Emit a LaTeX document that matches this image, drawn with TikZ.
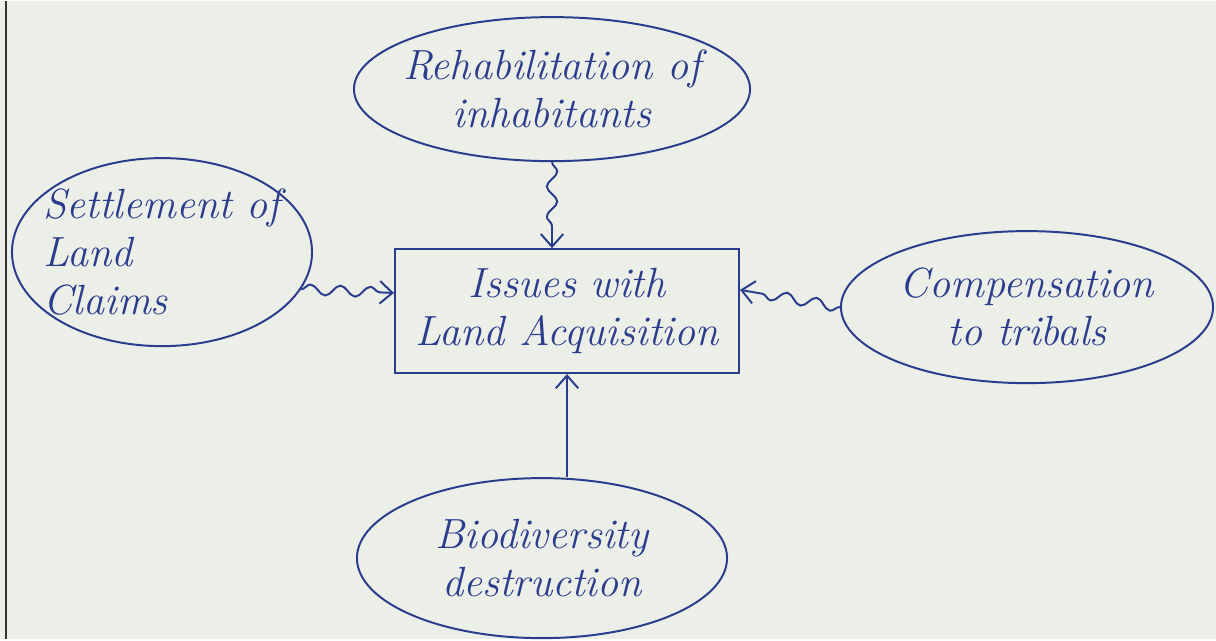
\documentclass[tikz,border=0pt]{standalone}
\usepackage{xcolor}
\usepackage{tikz}
\usetikzlibrary{arrows.meta, shapes.geometric, decorations.pathmorphing, positioning}

\definecolor{ink}{RGB}{42,60,140}
\definecolor{paper}{RGB}{236,238,232}

\begin{document}
\begin{tikzpicture}[
            x=0.025cm,
            y=-0.025cm,
            every node/.style={
                    text=ink,
                    font=\fontsize{30}{34}\selectfont\itshape,
                    align=center,
                    inner sep=0pt
                },
            idea/.style={
                    draw=ink,
                    ellipse,
                    line width=1.4pt
                },
            issue box/.style={
                    draw=ink,
                    rectangle,
                    line width=1.4pt,
                    minimum width=8.6cm,
                    minimum height=3.1cm
                },
            wavy link/.style={
                    draw=ink,
                    line width=1.4pt,
                    -{Straight Barb[length=9pt,width=16pt]},
                    decorate,
                    decoration={snake, amplitude=0.13cm, segment length=0.75cm, post length=0.25cm}
                },
            plain link/.style={
                    draw=ink,
                    line width=1.4pt,
                    -{Straight Barb[length=9pt,width=16pt]}
                }
        ]

        % Paper
        \fill[paper] (0,0) rectangle (1216,638);
        \draw[black!80, line width=1.6pt] (6,0) -- (6,638);

        % Central issue
        \node[issue box] (issues) at (567,310) {Issues with\\Land Acquisition};

        % Surrounding ideas
        \node[idea, minimum width=9.9cm, minimum height=3.6cm,
            label=center:{Rehabilitation of\\inhabitants}] (rehab) at (552,88) {};
        \node[idea, minimum width=7.5cm, minimum height=4.7cm,
            label={[align=left]center:Settlement of\\Land\\Claims}] (settle) at (162,251) {};
        \node[idea, minimum width=9.3cm, minimum height=3.8cm,
            label=center:{Compensation\\to tribals}] (comp) at (1027,306) {};
        \node[idea, minimum width=9.25cm, minimum height=4.0cm,
            label=center:{Biodiversity\\destruction}] (bio) at (542,557) {};

        % Connections
        \draw[wavy link] (rehab.south) -- (rehab.south |- issues.north);
        \draw[wavy link] (settle.-15) -- (issues.174);
        \draw[wavy link] (comp.west) -- (issues.7);
        \draw[plain link] (issues.south |- bio.north) -- (issues.south);

    \end{tikzpicture}
\end{document}
